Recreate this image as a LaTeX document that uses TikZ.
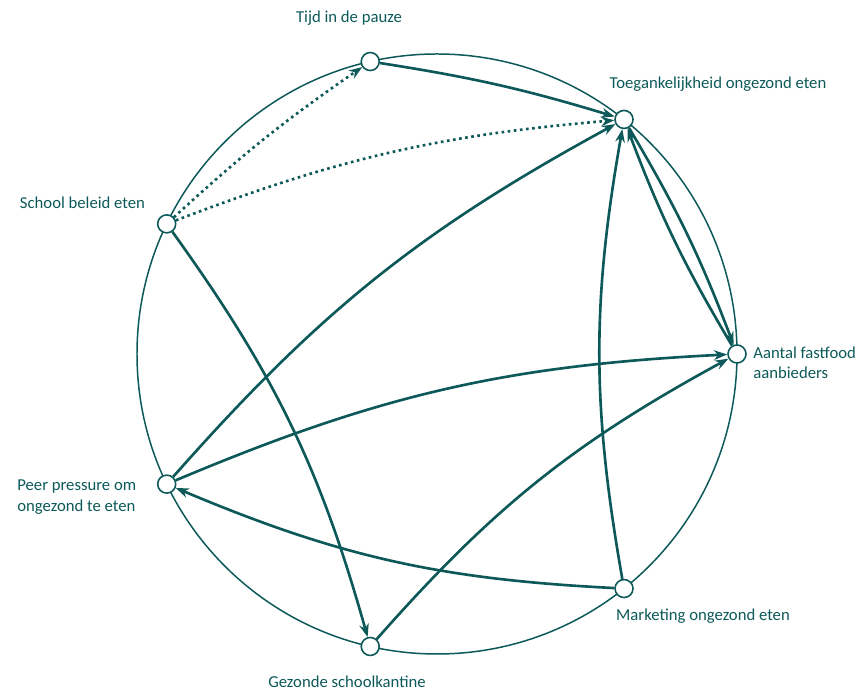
\documentclass[tikz,border=0pt]{standalone}
\usepackage{fontspec}
\setmainfont{Carlito}
\usetikzlibrary{arrows.meta}
\definecolor{loopteal}{RGB}{13,89,89}
\tikzset{>={Stealth[length=7.5pt,width=5.5pt]}}

\begin{document}
\begin{tikzpicture}[
  spot/.style={circle, draw=loopteal, fill=white, line width=0.9pt, minimum size=0.36cm, inner sep=0pt},
  lbl/.style={text=loopteal, font=\fontsize{9.5}{11.5}\selectfont, inner sep=0pt, align=left},
  link/.style={->, draw=loopteal, line width=1.5pt, bend left=10},
  hint/.style={link, dotted}]
  \useasboundingbox (-8.74,-6.70) rectangle (8.58,7.08);
  % outer ring
  \draw [loopteal, line width=0.85pt] (0,0) circle (6);
  % factors on the ring
  \node [spot] (aantal) at (0:6) {};
  \node [spot] (toeg) at (51.43:6) {};
  \node [spot] (tijd) at (102.86:6) {};
  \node [spot] (school) at (154.29:6) {};
  \node [spot] (peer) at (205.71:6) {};
  \node [spot] (gezonde) at (257.14:6) {};
  \node [spot] (marketing) at (308.57:6) {};
  % texts
  \node [lbl] (tijdtxt) at (-1.76,6.72) {Tijd in de pauze};
  \node [lbl] (toegtxt) at (5.62,5.40) {Toegankelijkheid ongezond eten};
  \node [lbl, anchor=west] (aantaltxt) at (6.32,-0.17) {Aantal fastfood\\aanbieders};
  \node [lbl] (marketingtxt) at (5.32,-5.24) {Marketing ongezond eten};
  \node [lbl] (gezondetxt) at (-1.80,-6.55) {Gezonde schoolkantine};
  \node [lbl, anchor=west] (peertxt) at (-8.40,-2.86) {Peer pressure om\\ongezond te eten};
  \node [lbl] (schooltxt) at (-7.09,3.02) {School beleid eten};
  % links
  \draw [hint, bend left=4] (school) to (tijd);
  \draw [hint, bend left=8] (school) to (toeg);
  \draw [link, bend left=4] (tijd) to (toeg);
  \draw [link] (school) to (gezonde);
  \draw [link] (peer) to (toeg);
  \draw [link] (peer) to (aantal);
  \draw [link] (marketing) to (peer);
  \draw [link] (marketing) to (toeg);
  \draw [link] (gezonde) to (aantal);
  \draw [link, bend left=5] (toeg) to (aantal);
  \draw [link, bend left=5] (aantal) to (toeg);
\end{tikzpicture}
\end{document}
